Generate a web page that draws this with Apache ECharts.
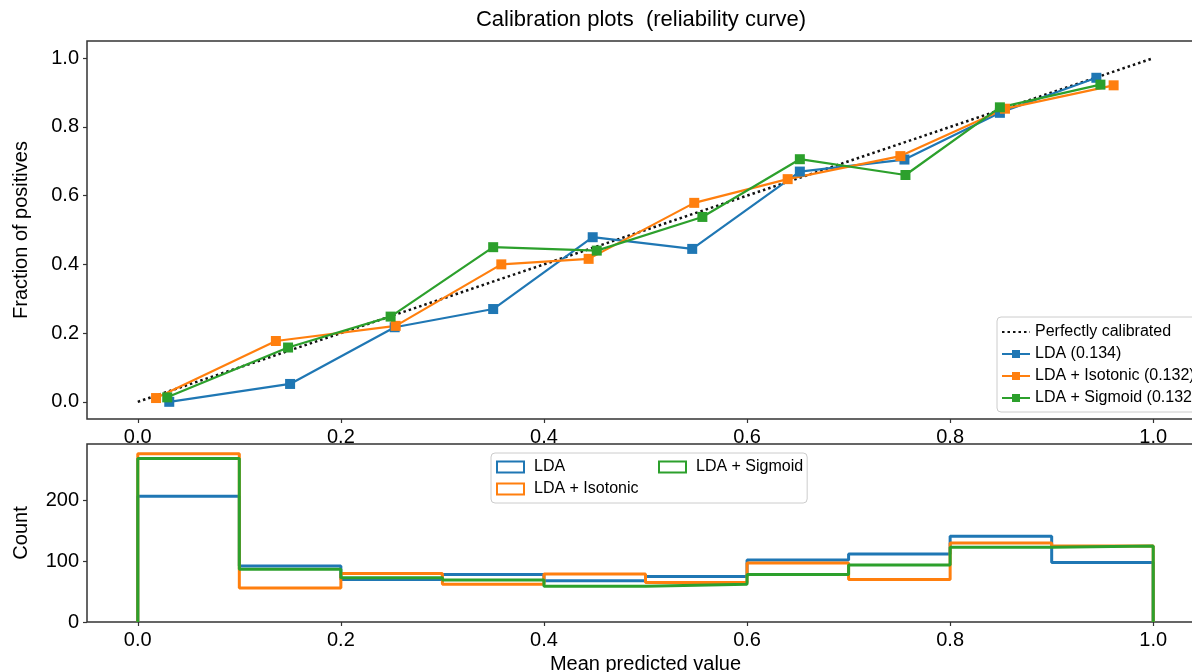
<!DOCTYPE html>
<html>
<head>
<meta charset="utf-8">
<script src="https://cdn.jsdelivr.net/npm/echarts@6/dist/echarts.min.js"></script>
<style>
  html, body { margin: 0; padding: 0; background: #fff; }
  #main { width: 1192px; height: 672px; }
</style>
</head>
<body>
<div id="main"></div>
<script>
// reliability curve points: [mean predicted value, fraction of positives]
const diagPts = [[0, 0], [1, 1]];
const ldaPts = [[0.031, 0.0], [0.150, 0.052], [0.253, 0.217], [0.350, 0.270], [0.448, 0.479],
                [0.546, 0.445], [0.652, 0.670], [0.755, 0.705], [0.849, 0.841], [0.944, 0.943]];
const isoPts = [[0.018, 0.011], [0.136, 0.177], [0.254, 0.221], [0.358, 0.400], [0.444, 0.416],
                [0.548, 0.579], [0.640, 0.648], [0.751, 0.715], [0.854, 0.853], [0.961, 0.921]];
const sigPts = [[0.029, 0.013], [0.148, 0.158], [0.249, 0.248], [0.350, 0.450], [0.452, 0.440],
                [0.556, 0.538], [0.652, 0.706], [0.756, 0.660], [0.849, 0.857], [0.948, 0.923]];

// histogram of predicted values
const binEdges = [0, 0.1, 0.2, 0.3, 0.4, 0.5, 0.6, 0.7, 0.8, 0.9, 1.0];
const ldaCounts = [207, 92, 70, 78, 68, 75, 102, 112, 141, 98];
const isoCounts = [277, 56, 80, 62, 79, 65, 97, 70, 130, 125];
const sigCounts = [269, 87, 73, 69, 59, 62, 78, 94, 123, 125];

const xTicks = [0, 0.2, 0.4, 0.6, 0.8, 1.0];
const yTicksTop = [0, 0.2, 0.4, 0.6, 0.8, 1.0];
const yTicksCount = [0, 100, 200];

const BLUE = '#1f77b4', ORANGE = '#ff7f0e', GREEN = '#2ca02c';
const FONT = "'Liberation Sans', Arial, sans-serif";

// outline of a step histogram
function stepData(counts) {
  let d = [[binEdges[0], 0]];
  counts.forEach((c, i) => d.push([binEdges[i], c]));
  d.push([binEdges[binEdges.length - 1], 0]);
  return d;
}

function axis(gridIndex, min, max, ticks, fmt, extra) {
  return Object.assign({
    type: 'value', gridIndex: gridIndex, min: min, max: max,
    axisLine: { show: false, onZero: false },
    axisTick: { show: true, length: 4, customValues: ticks, lineStyle: { color: '#333', width: 1.2 } },
    axisLabel: { customValues: ticks, formatter: fmt, fontSize: 20, color: '#000', fontFamily: FONT, margin: 8 },
    splitLine: { show: false },
    nameTextStyle: { fontSize: 20, color: '#000', fontFamily: FONT },
    nameMoveOverlap: false
  }, extra || {});
}
const f1 = v => v.toFixed(1);

function curve(name, pts, color) {
  return {
    name: name, type: 'line', xAxisIndex: 0, yAxisIndex: 0, data: pts,
    symbol: 'rect', symbolSize: 10, color: color,
    lineStyle: { width: 2.2, color: color }, itemStyle: { color: color },
    animation: false
  };
}
function hist(name, counts, color) {
  return {
    name: name, type: 'line', xAxisIndex: 1, yAxisIndex: 1, data: stepData(counts),
    step: 'end', symbol: 'none', showSymbol: false, color: color,
    lineStyle: { width: 3, color: color }, itemStyle: { color: color },
    animation: false
  };
}

const chart = echarts.init(document.getElementById('main'));
chart.setOption({
  animation: false,
  backgroundColor: '#fff',
  textStyle: { fontFamily: FONT },
  graphic: [{
    type: 'text', x: 641, y: 20,
    style: { text: 'Calibration plots  (reliability curve)', fontSize: 22, fontFamily: FONT, fill: '#000',
             textAlign: 'center', textVerticalAlign: 'middle', align: 'center', verticalAlign: 'middle' }
  }],
  grid: [
    { left: 87, top: 41, width: 1117, height: 378, show: true, borderColor: '#333', borderWidth: 1.5,
      backgroundColor: 'transparent', outerBoundsMode: 'none', containLabel: false },
    { left: 87, top: 444, width: 1117, height: 178, show: true, borderColor: '#333', borderWidth: 1.5,
      backgroundColor: 'transparent', outerBoundsMode: 'none', containLabel: false }
  ],
  xAxis: [
    axis(0, -0.05, 1.05, xTicks, f1),
    axis(1, -0.05, 1.05, xTicks, f1, { name: 'Mean predicted value', nameLocation: 'middle', nameGap: 32 })
  ],
  yAxis: [
    axis(0, -0.05, 1.05, yTicksTop, f1, { name: 'Fraction of positives', nameLocation: 'middle', nameGap: 56 }),
    axis(1, 0, 293, yTicksCount, v => String(v), { name: 'Count', nameLocation: 'middle', nameGap: 56 })
  ],
  legend: [
    {
      orient: 'vertical', left: 997, top: 317,
      itemWidth: 28, itemHeight: 10, itemGap: 6,
      padding: [7, 6, 6, 4],
      borderColor: '#ccc', borderWidth: 1, borderRadius: 4, backgroundColor: 'rgba(255,255,255,0.8)',
      textStyle: { fontSize: 16, color: '#000', fontFamily: FONT, lineHeight: 16 },
      data: [
        { name: 'Perfectly calibrated', itemStyle: { color: 'rgba(0,0,0,0)', borderColor: 'rgba(0,0,0,0)', borderWidth: 0 } },
        'LDA (0.134)', 'LDA + Isotonic (0.132)', 'LDA + Sigmoid (0.132)'
      ]
    },
    {
      orient: 'horizontal', left: 491, top: 453, width: 312,
      itemWidth: 27, itemHeight: 11, itemGap: 6, icon: 'emptyRect',
      padding: [6, 4, 6, 5],
      borderColor: '#ccc', borderWidth: 1, borderRadius: 4, backgroundColor: 'rgba(255,255,255,0.8)',
      formatter: name => (name === 'LDA + Sigmoid' ? '{b|' : '{a|') + name + '}',
      textStyle: {
        fontSize: 16, color: '#000', fontFamily: FONT, lineHeight: 16,
        rich: {
          a: { fontSize: 16, fontFamily: FONT, color: '#000', width: 118, padding: [0, 0, 0, 5] },
          b: { fontSize: 16, fontFamily: FONT, color: '#000', width: 100, padding: [0, 0, 0, 5] }
        }
      },
      data: ['LDA', 'LDA + Sigmoid', 'LDA + Isotonic']
    }
  ],
  series: [
    {
      name: 'Perfectly calibrated', type: 'line', xAxisIndex: 0, yAxisIndex: 0, data: diagPts,
      symbol: 'none', showSymbol: false, color: '#111',
      lineStyle: { width: 2.5, color: '#111', type: [2.5, 3] }, animation: false
    },
    curve('LDA (0.134)', ldaPts, BLUE),
    curve('LDA + Isotonic (0.132)', isoPts, ORANGE),
    curve('LDA + Sigmoid (0.132)', sigPts, GREEN),
    hist('LDA', ldaCounts, BLUE),
    hist('LDA + Isotonic', isoCounts, ORANGE),
    hist('LDA + Sigmoid', sigCounts, GREEN)
  ]
});
</script>
</body>
</html>
